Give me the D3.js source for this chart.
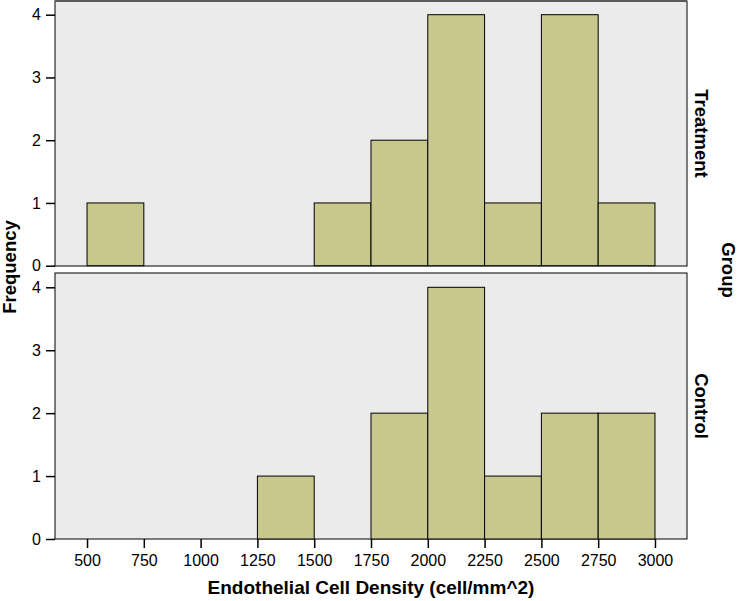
<!DOCTYPE html>
<html><head><meta charset="utf-8">
<script src="https://cdn.jsdelivr.net/npm/d3@7"></script>
<style>body{margin:0;background:#fff}svg{display:block;font-family:"Liberation Sans",Arial,sans-serif}</style>
</head><body><svg id="c" width="738" height="601"></svg>
<script>
const binStarts = [500,750,1000,1250,1500,1750,2000,2250,2500,2750];
const binWidth = 250;
const treatment = [1,0,0,0,1,2,4,1,4,1];
const control = [0,0,0,1,0,2,4,1,2,2];
const xTicks = [500,750,1000,1250,1500,1750,2000,2250,2500,2750,3000];
const yTicks = [0,1,2,3,4];
const groups = [{name:"Treatment", values:treatment},{name:"Control", values:control}];

const svg = d3.select("#c");
const left = 55, right = 687;
const x = d3.scaleLinear().domain([359,3141]).range([left,right]);
const panels = [{top:1,bottom:266},{top:273,bottom:539}];
const barColor = "#c8c88e", bg = "#ebebeb";
const FONT = "Liberation Sans, Arial, sans-serif";

groups.forEach((g,i)=>{
  const p = panels[i];
  const y0 = i===0 ? 265.7 : 539;
  const y4 = i===0 ? 14.7 : 287.3;
  const y = d3.scaleLinear().domain([0,4]).range([y0,y4]);
  const gg = svg.append("g");
  gg.append("rect").attr("x",left).attr("y",p.top).attr("width",right-left).attr("height",p.bottom-p.top)
    .attr("fill",bg).attr("stroke","#000").attr("stroke-width",1);
  gg.selectAll("rect.bar").data(g.values.map((v,k)=>({v,s:binStarts[k]})).filter(d=>d.v>0))
    .enter().append("rect").attr("class","bar")
    .attr("x",d=>x(d.s)).attr("width",d=>x(d.s+binWidth)-x(d.s))
    .attr("y",d=>y(d.v)).attr("height",d=>y(0)-y(d.v))
    .attr("fill",barColor).attr("stroke","#000").attr("stroke-width",1);
  const ax = gg.append("g").attr("transform",`translate(${left},0)`)
    .call(d3.axisLeft(y).tickValues(yTicks).tickFormat(d3.format("d")).tickSize(9).tickPadding(5));
  ax.attr("font-size",16).attr("font-family",FONT);
  ax.select(".domain").remove();
  ax.selectAll("text").attr("fill","#000");
  ax.selectAll("line").attr("stroke","#000").attr("stroke-width",1.5);
  svg.append("text").attr("transform",`translate(695,${(p.top+p.bottom)/2}) rotate(90)`)
    .attr("text-anchor","middle").attr("font-size",18.5).attr("font-weight","bold").text(g.name);
});
// top gray border
svg.append("rect").attr("x",left).attr("y",0).attr("width",right-left).attr("height",2).attr("fill","#5a5a5a");

const xa = svg.append("g").attr("transform",`translate(0,539)`)
  .call(d3.axisBottom(x).tickValues(xTicks).tickFormat(d3.format("d")).tickSize(9).tickPadding(7));
xa.attr("font-size",16).attr("font-family",FONT);
xa.select(".domain").remove();
xa.selectAll("text").attr("fill","#000");
xa.selectAll("line").attr("stroke","#000").attr("stroke-width",1.5);

svg.append("text").attr("x",371).attr("y",594).attr("text-anchor","middle")
  .attr("font-size",19).attr("font-weight","bold").text("Endothelial Cell Density (cell/mm^2)");
svg.append("text").attr("transform","translate(16,267) rotate(-90)").attr("text-anchor","middle")
  .attr("font-size",18.5).attr("font-weight","bold").text("Frequency");
svg.append("text").attr("transform","translate(722,270) rotate(90)").attr("text-anchor","middle")
  .attr("font-size",18.5).attr("font-weight","bold").text("Group");
</script></body></html>
